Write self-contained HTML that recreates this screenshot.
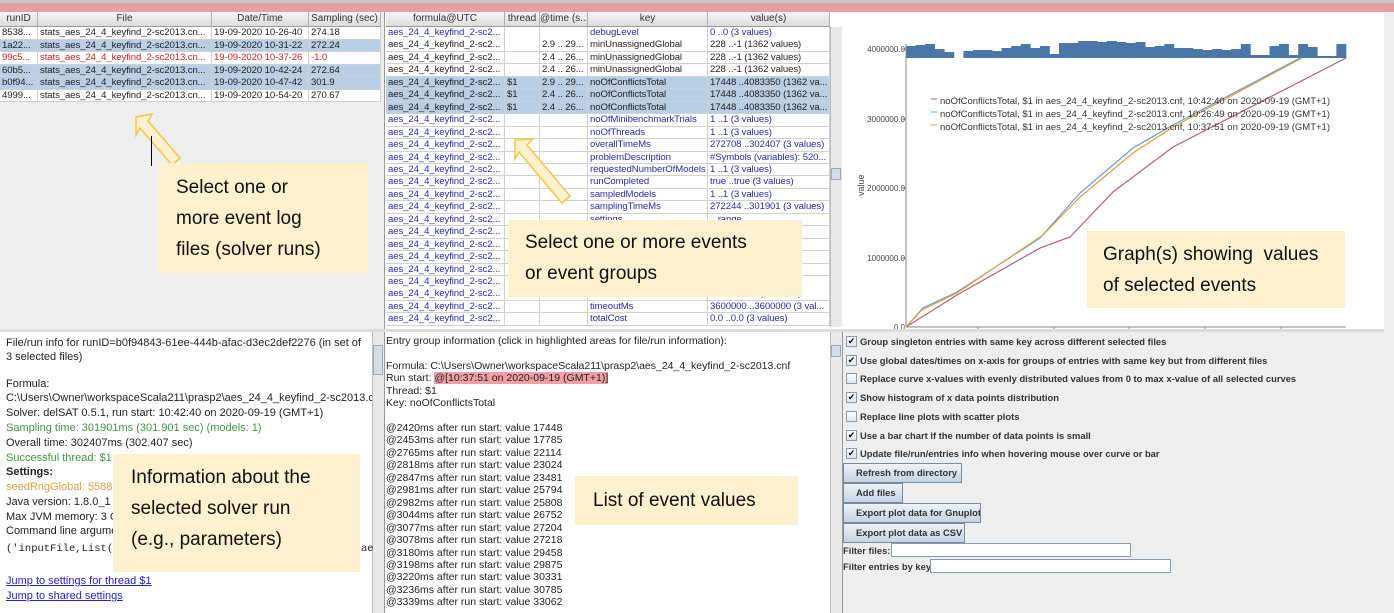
<!DOCTYPE html>
<html><head><meta charset="utf-8"><style>
*{margin:0;padding:0;box-sizing:border-box}
body{width:1394px;height:613px;overflow:hidden;background:#eeeeee;font-family:"Liberation Sans",Arial,sans-serif;position:relative}
.a{position:absolute;white-space:nowrap}
.hd{position:absolute;top:12px;height:15px;background:linear-gradient(#f6f6f6,#dcdcdc);border-right:1px solid #b0b0b0;border-bottom:1px solid #999;font-size:10px;color:#333;text-align:center;line-height:14px;overflow:hidden;white-space:nowrap}
.row{position:absolute;height:12.5px;border-bottom:1px solid #d0d0d0;font-size:9.6px;letter-spacing:-0.1px;line-height:12px;overflow:hidden}
.row span{position:absolute;top:0;padding-left:2px;overflow:hidden;white-space:nowrap;height:12px;border-right:1px solid #d0d0d0}
.sel{background:#b8cfe5}
.note{position:absolute;background:#fdf0cf;font-family:"Liberation Sans",sans-serif;font-size:19px;color:#111;line-height:31px;white-space:nowrap}
.cb{position:absolute;left:846px;width:11px;height:11px;border:1px solid #8a9bb0;background:linear-gradient(#fff,#dde6ef);font-size:9px;line-height:9px;text-align:center}
.cbt{position:absolute;left:860px;font-size:9.4px;font-weight:bold;color:#333;white-space:nowrap}
.btn{position:absolute;left:843px;height:20px;border:1px solid #7a8a99;background:linear-gradient(#eef3f8,#c3d3e3);font-size:9.4px;font-weight:bold;color:#333;padding-left:12px;line-height:18px;white-space:nowrap;overflow:hidden}
.inp{position:absolute;height:14px;background:#fff;border:1px solid #8a9bb0}
.lt{position:absolute;font-size:11.5px;color:#222;white-space:nowrap;line-height:15px}
</style></head><body>
<div class="a" style="left:0;top:0;width:1394px;height:3px;background:#c8c8c8"></div>
<div class="a" style="left:0;top:3px;width:1394px;height:9px;background:#e4a0a4"></div>

<div class="a" style="left:0;top:12px;width:384px;height:318px;background:#eeeeee"></div>
<div class="hd" style="left:0;width:38px">runID</div>
<div class="hd" style="left:38px;width:174px">File</div>
<div class="hd" style="left:212px;width:97px">Date/Time</div>
<div class="hd" style="left:309px;width:72px">Sampling (sec)</div>
<div id="lt"></div>

<div class="a" style="left:384px;top:12px;width:458px;height:318px;background:#fff;border-left:1px solid #999"></div>
<div class="hd" style="left:386px;width:119px">formula@UTC</div>
<div class="hd" style="left:505px;width:35px">thread</div>
<div class="hd" style="left:540px;width:48px">@time (s...</div>
<div class="hd" style="left:588px;width:120px">key</div>
<div class="hd" style="left:708px;width:122px">value(s)</div>
<div id="mt"></div>
<div class="a" style="left:830px;top:27px;width:12px;height:300px;background:#e8e8e8;border-left:1px solid #bbb"></div>
<div class="a" style="left:831px;top:168px;width:10px;height:12px;background:#d4dce6;border:1px solid #a0a8b4"></div>

<div class="a" style="left:842px;top:12px;width:542px;height:318px;background:#fff"></div>
<svg class="a" style="left:0;top:0" width="1394" height="613">
<g id="hist" fill="#4a76a8"></g>
<line x1="906" y1="44" x2="906" y2="327" stroke="#888"/>
<line x1="906" y1="327" x2="1346" y2="327" stroke="#888"/>
<g stroke="#888"><line x1="978" y1="327" x2="978" y2="331"/><line x1="1054" y1="327" x2="1054" y2="331"/><line x1="1129" y1="327" x2="1129" y2="331"/><line x1="1205" y1="327" x2="1205" y2="331"/><line x1="1281" y1="327" x2="1281" y2="331"/>
<line x1="902" y1="49" x2="906" y2="49"/><line x1="902" y1="119" x2="906" y2="119"/><line x1="902" y1="188" x2="906" y2="188"/><line x1="902" y1="258" x2="906" y2="258"/></g>
<g font-family="Liberation Sans" font-size="8" fill="#444" text-anchor="end">
<text x="905" y="52">4000000.0</text><text x="905" y="122">3000000.0</text><text x="905" y="191">2000000.0</text><text x="905" y="261">1000000.0</text><text x="905" y="330">0.0</text>
</g>
<text x="0" y="0" font-family="Liberation Sans" font-size="9" fill="#444" transform="translate(864,196) rotate(-90)">value</text>
<polyline fill="none" stroke="#b0607a" stroke-width="1.2" points="906,327 957,295 1040,248 1070,237 1113,192 1173,147 1346,58"/>
<polyline fill="none" stroke="#6a9ad8" stroke-width="1.2" points="906,327 923,308 957,292 1040,238 1080,193 1133,148 1173,125 1300,58"/>
<polyline fill="none" stroke="#e0a040" stroke-width="1.2" points="906,327 922,310 957,293 1043,235 1080,197 1133,153 1173,127 1302,58"/>
<g font-family="Liberation Sans" font-size="9.5" fill="#333">
<line x1="931" y1="99" x2="937" y2="99" stroke="#b0607a"/><text x="940" y="104">noOfConflictsTotal, $1 in aes_24_4_keyfind_2-sc2013.cnf, 10:42:40 on 2020-09-19 (GMT+1)</text>
<line x1="931" y1="112" x2="937" y2="112" stroke="#6a9ad8"/><text x="940" y="117">noOfConflictsTotal, $1 in aes_24_4_keyfind_2-sc2013.cnf, 10:26:49 on 2020-09-19 (GMT+1)</text>
<line x1="931" y1="125" x2="937" y2="125" stroke="#e0a040"/><text x="940" y="130">noOfConflictsTotal, $1 in aes_24_4_keyfind_2-sc2013.cnf, 10:37:51 on 2020-09-19 (GMT+1)</text>
</g>
</svg>

<div class="a" style="left:0;top:329px;width:1394px;height:3px;background:#dcdcdc"></div>
<div class="a" style="left:1384px;top:12px;width:10px;height:601px;background:#eee"></div>

<div class="a" style="left:0;top:332px;width:384px;height:281px;background:#fff"></div>
<div class="a" style="left:372px;top:332px;width:12px;height:281px;background:#e8e8e8;border-left:1px solid #bbb"></div>
<div class="a" style="left:373px;top:345px;width:10px;height:30px;background:#d4dce6;border:1px solid #a0a8b4"></div>
<div class="lt" style="left:6px;top:336px;font-size:11px">File/run info for runID=b0f94843-61ee-444b-afac-d3ec2def2276 (in set of</div>
<div class="lt" style="left:6px;top:350px;font-size:11px">3 selected files)</div>
<div class="lt" style="left:6px;top:377px;font-size:11px">Formula:</div>
<div class="lt" style="left:6px;top:391px;width:366px;overflow:hidden;font-size:11px">C:\Users\Owner\workspaceScala211\prasp2\aes_24_4_keyfind_2-sc2013.cnf</div>
<div class="lt" style="left:6px;top:406px;font-size:11px">Solver: delSAT 0.5.1, run start: 10:42:40 on 2020-09-19 (GMT+1)</div>
<div class="lt" style="left:6px;top:421px;color:#3a9a3a;font-size:11px">Sampling time: 301901ms (301.901 sec) (models: 1)</div>
<div class="lt" style="left:6px;top:436px;font-size:11px">Overall time: 302407ms (302.407 sec)</div>
<div class="lt" style="left:6px;top:451px;color:#3a9a3a;font-size:11px">Successful thread: $1</div>
<div class="lt" style="left:6px;top:465px;font-weight:bold;font-size:11px">Settings:</div>
<div class="lt" style="left:6px;top:480px;color:#e0a040;font-size:11px">seedRngGlobal: 5588</div>
<div class="lt" style="left:6px;top:495px;font-size:11px">Java version: 1.8.0_1</div>
<div class="lt" style="left:6px;top:510px;font-size:11px">Max JVM memory: 3 G</div>
<div class="lt" style="left:6px;top:524px;font-size:11px">Command line argume</div>
<div class="lt" style="left:6px;top:542px;font-family:'Liberation Mono',monospace;font-size:10.5px">('inputFile,List(</div>
<div class="lt" style="left:361px;top:542px;font-family:'Liberation Mono',monospace;font-size:10.5px">ae</div>
<div class="lt" style="left:6px;top:574px;color:#2222cc;text-decoration:underline;font-size:11px">Jump to settings for thread $1</div>
<div class="lt" style="left:6px;top:589px;color:#2222cc;text-decoration:underline;font-size:11px">Jump to shared settings</div>

<div class="a" style="left:384px;top:332px;width:458px;height:281px;background:#fff;border-left:1px solid #999"></div>
<div class="a" style="left:830px;top:332px;width:12px;height:281px;background:#e8e8e8;border-left:1px solid #bbb"></div>
<div class="a" style="left:831px;top:345px;width:10px;height:12px;background:#d4dce6;border:1px solid #a0a8b4"></div>
<div id="bm"></div>

<div class="a" style="left:842px;top:332px;width:542px;height:281px;background:#eeeeee;border-left:1px solid #999"></div>
<div id="br"></div>
<div class="btn" style="top:463px;width:119px">Refresh from directory</div>
<div class="btn" style="top:483px;width:60px">Add files</div>
<div class="btn" style="top:503px;width:138px">Export plot data for Gnuplot</div>
<div class="btn" style="top:523px;width:122px">Export plot data as CSV</div>
<div class="cbt" style="left:843px;top:545px">Filter files:</div>
<div class="inp" style="left:891px;top:543px;width:240px"></div>
<div class="cbt" style="left:843px;top:561px">Filter entries by key:</div>
<div class="inp" style="left:930px;top:559px;width:241px"></div>

<svg class="a" style="left:0;top:0" width="1394" height="613">
<polygon points="136,117 152,114 148,121 180,158 172,165 140,128 136,135" fill="#fdf0cf" stroke="#f0c840" stroke-width="1.5"/>
<polygon points="515,140 533,139 527,145 570,196 562,203 519,152 515,159" fill="#fdf0cf" stroke="#f0c840" stroke-width="1.5"/>
<line x1="151.5" y1="136" x2="151.5" y2="166" stroke="#000"/>
</svg>
<div class="note" style="left:158px;top:163px;width:210px;height:110px;padding:9px 0 0 18px">Select one or<br>more event log<br>files (solver runs)</div>
<div class="note" style="left:508px;top:220px;width:294px;height:77px;padding:7px 0 0 17px">Select one or more events<br>or event groups</div>
<div class="note" style="left:1087px;top:231px;width:258px;height:77px;padding:8px 0 0 16px">Graph(s) showing&nbsp; values<br>of selected events</div>
<div class="note" style="left:113px;top:454px;width:247px;height:118px;padding:8px 0 0 18px">Information about the<br>selected solver run<br>(e.g., parameters)</div>
<div class="note" style="left:575px;top:476px;width:223px;height:49px;padding:9px 0 0 18px">List of event values</div>

<script>
var L=[["8538...","stats_aes_24_4_keyfind_2-sc2013.cn...","19-09-2020 10-26-40","274.18",0],
["1a22...","stats_aes_24_4_keyfind_2-sc2013.cn...","19-09-2020 10-31-22","272.24",1],
["99c5...","stats_aes_24_4_keyfind_2-sc2013.cn...","19-09-2020 10-37-26","-1.0",2],
["60b5...","stats_aes_24_4_keyfind_2-sc2013.cn...","19-09-2020 10-42-24","272.64",1],
["b0f94...","stats_aes_24_4_keyfind_2-sc2013.cn...","19-09-2020 10-47-42","301.9",1],
["4999...","stats_aes_24_4_keyfind_2-sc2013.cn...","19-09-2020 10-54-20","270.67",0]];
var h="";L.forEach(function(r,i){var c=r[4]==1?"sel":"";var col=r[4]==2?"#d02020":"#222";var bg=r[4]==1?"":"background:#fff";
h+='<div class="row '+c+'" style="left:0;width:381px;top:'+(27+i*12.5)+'px;color:'+col+';'+bg+'"><span style="left:0;width:38px">'+r[0]+'</span><span style="left:38px;width:174px">'+r[1]+'</span><span style="left:212px;width:97px">'+r[2]+'</span><span style="left:309px;width:72px">'+r[3]+'</span></div>';});
document.getElementById("lt").innerHTML=h;
var M=[["","","debugLevel","0 ..0 (3 values)",0],
["","2.9 .. 29...","minUnassignedGlobal","228 ..-1 (1362 values)",2],
["","2.4 .. 26...","minUnassignedGlobal","228 ..-1 (1362 values)",2],
["","2.4 .. 26...","minUnassignedGlobal","228 ..-1 (1362 values)",2],
["$1","2.9 .. 29...","noOfConflictsTotal","17448 ..4083350 (1362 va...",1],
["$1","2.4 .. 26...","noOfConflictsTotal","17448 ..4083350 (1362 va...",1],
["$1","2.4 .. 26...","noOfConflictsTotal","17448 ..4083350 (1362 va...",1],
["","","noOfMinibenchmarkTrials","1 ..1 (3 values)",0],
["","","noOfThreads","1 ..1 (3 values)",0],
["","","overallTimeMs","272708 ..302407 (3 values)",0],
["","","problemDescription","#Symbols (variables): 520...",0],
["","","requestedNumberOfModels","1 ..1 (3 values)",0],
["","","runCompleted","true ..true (3 values)",0],
["","","sampledModels","1 ..1 (3 values)",0],
["","","samplingTimeMs","272244 ..301901 (3 values)",0],
["","","settings","...range...",0],
["","","","0.5...",0],["","","","",0],["","","","",0],["","","","",0],["","","","",0],
["","","timeout","false ..false (3 values)",0],
["","","timeoutMs","3600000 ..3600000 (3 val...",0],
["","","totalCost","0.0 ..0.0 (3 values)",0]];
h="";M.forEach(function(r,i){var c=r[4]==1?"sel":"";var col=r[4]==0?"#2a2aa8":"#222";var bg=r[4]==1?"":"background:#fff";
h+='<div class="row '+c+'" style="left:386px;width:444px;top:'+(27+i*12.45)+'px;color:'+col+';'+bg+'"><span style="left:0;width:119px">aes_24_4_keyfind_2-sc2...</span><span style="left:119px;width:35px;color:#222">'+r[0]+'</span><span style="left:154px;width:48px;color:#222">'+r[1]+'</span><span style="left:202px;width:120px">'+r[2]+'</span><span style="left:322px;width:122px">'+r[3]+'</span></div>';});
document.getElementById("mt").innerHTML=h;
var B=[["Entry group information (click in highlighted areas for file/run information):",334],["Formula: C:\\Users\\Owner\\workspaceScala211\\prasp2\\aes_24_4_keyfind_2-sc2013.cnf",359],
["Run start: <span style='background:#f0a0a4'>@[10:37:51 on 2020-09-19 (GMT+1)]</span>",371],["Thread: $1",384],["Key: noOfConflictsTotal",396]];
var V=[["2420","17448"],["2453","17785"],["2765","22114"],["2818","23024"],["2847","23481"],["2981","25794"],["2982","25808"],["3044","26752"],["3077","27204"],["3078","27218"],["3180","29458"],["3198","29875"],["3220","30331"],["3236","30785"],["3339","33062"]];
h="";B.forEach(function(b){h+='<div class="lt" style="left:386px;top:'+b[1]+'px;font-size:10.5px">'+b[0]+'</div>'});
V.forEach(function(v,i){h+='<div class="lt" style="left:386px;top:'+(421+i*12.45)+'px;font-size:10.5px">@'+v[0]+'ms after run start: value '+v[1]+'</div>'});
document.getElementById("bm").innerHTML=h;
var C=[["Group singleton entries with same key across different selected files",1],["Use global dates/times on x-axis for groups of entries with same key but from different files",1],["Replace curve x-values with evenly distributed values from 0 to max x-value of all selected curves",0],["Show histogram of x data points distribution",1],["Replace line plots with scatter plots",0],["Use a bar chart if the number of data points is small",1],["Update file/run/entries info when hovering mouse over curve or bar",1]];
h="";C.forEach(function(c,i){var y=336+i*18.7;h+='<div class="cb" style="top:'+y+'px">'+(c[1]?"&#10004;":"")+'</div><div class="cbt" style="top:'+(y)+'px">'+c[0]+'</div>'});
document.getElementById("br").innerHTML=h;
var hs=[12,13,14,9,6,0,7,8,8,7,10,12,14,10,12,4,15,15,17,17,16,17,16,15,16,11,12,14,10,10,9,8,9,8,9,14,3,3,12,14,3,14,11,2,2,14];
var g="",x=906,w=440/hs.length;hs.forEach(function(v){if(v>0)g+='<rect x="'+x.toFixed(1)+'" y="'+(58-v)+'" width="'+(w+0.3).toFixed(1)+'" height="'+v+'"/>';x+=w});
document.getElementById("hist").innerHTML=g;
</script>
</body></html>
